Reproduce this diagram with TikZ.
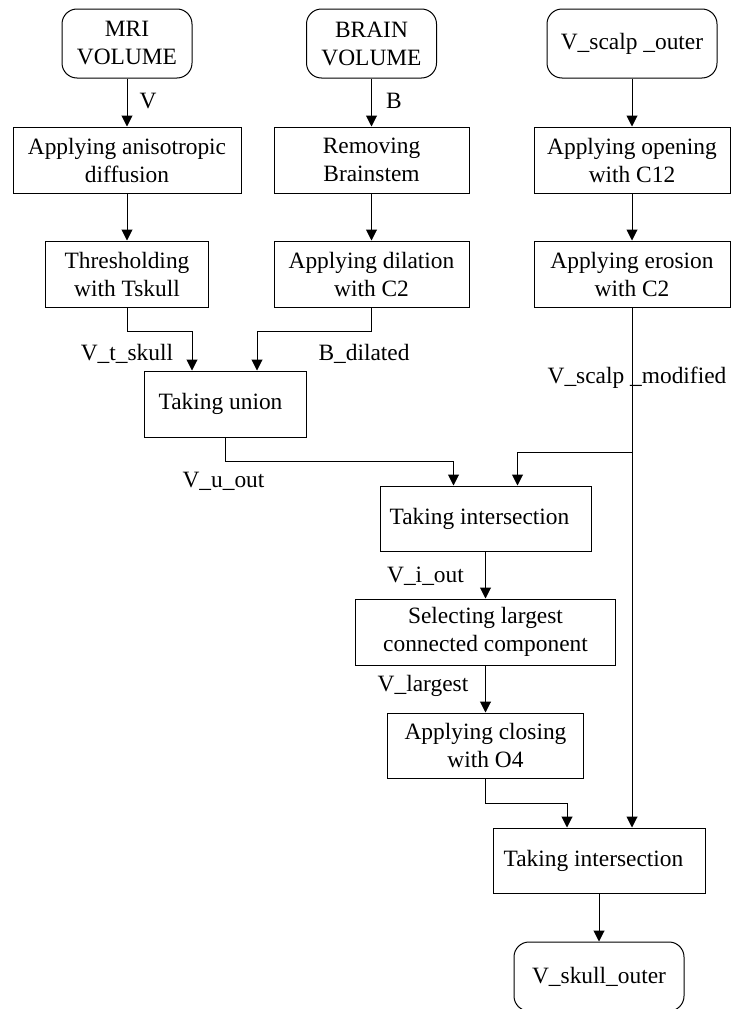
\documentclass[tikz,border=0pt]{standalone}
\usepackage{fontspec}
\setmainfont{Liberation Serif}
\usetikzlibrary{arrows.meta}
\begin{document}
\begin{tikzpicture}[x=1pt,y=-1pt,
  txt/.style={font=\fontsize{23.4}{28}\selectfont},
  box/.style={draw, line width=1pt, inner sep=0pt, align=center, txt},
  term/.style={box, rounded corners=15pt, minimum width=130pt, minimum height=69pt},
  lbl/.style={anchor=base, inner sep=0pt, txt},
  link/.style={line width=1pt},
  arr/.style={link, -{Triangle[length=11pt,width=11pt]}}]
\useasboundingbox (0,0) rectangle (731,1009);

% input volumes
\node[term] (mri) at (127,43.5) {MRI\\VOLUME};
\node[term] (brain) at (371.5,43.5) {BRAIN\\VOLUME};
\node[term, minimum width=170pt] (scalp) at (632,43.5) {V\_scalp \_outer};

% first processing row
\node[box, minimum width=228pt, minimum height=66pt] (aniso) at (127,160) {Applying anisotropic\\diffusion};
\node[box, minimum width=195pt, minimum height=66pt] (remove) at (371.5,160) {Removing\\Brainstem};
\node[box, minimum width=196pt, minimum height=66pt] (open) at (632,160) {Applying opening\\with C12};

% second processing row
\node[box, minimum width=163pt, minimum height=66pt] (thresh) at (127,274) {Thresholding\\with Tskull};
\node[box, minimum width=195pt, minimum height=66pt] (dilate) at (371.5,274) {Applying dilation\\with C2};
\node[box, minimum width=196pt, minimum height=66pt] (erode) at (632,274) {Applying erosion\\with C2};

% combination steps
\node[box, minimum width=162pt, minimum height=66pt] (union) at (225,404) {Taking union\hspace*{9pt}};
\node[box, minimum width=211pt, minimum height=65pt] (inter1) at (485.5,518.5) {Taking intersection\hspace*{12pt}};
\node[box, minimum width=260pt, minimum height=66pt] (select) at (485.5,632) {Selecting largest\\connected component};
\node[box, minimum width=196pt, minimum height=65pt] (close) at (485.5,745.5) {Applying closing\\with O4};
\node[box, minimum width=212pt, minimum height=65pt] (inter2) at (599,860.5) {Taking intersection\hspace*{11pt}};
\node[term, minimum width=170pt] (skull) at (599,976.5) {V\_skull\_outer};

% straight connectors
\draw[arr] (mri) -- (aniso);
\draw[arr] (brain) -- (remove);
\draw[arr] (scalp) -- (open);
\draw[arr] (aniso) -- (thresh);
\draw[arr] (remove) -- (dilate);
\draw[arr] (open) -- (erode);
\draw[arr] (inter1) -- (select);
\draw[arr] (select) -- (close);
\draw[arr] (inter2) -- (skull);

% elbow connectors
\draw[arr] (thresh.south) -- ++(0,24) -| ([xshift=-33pt]union.north);
\draw[arr] (dilate.south) -- ++(0,24) -| ([xshift=32pt]union.north);
\draw[arr] (union.south) -- ++(0,24) -| ([xshift=-32pt]inter1.north);
\draw[arr] (erode.south) -- ++(0,145) -| ([xshift=32pt]inter1.north);
\draw[arr] (erode.south) -- (erode.south |- inter2.north);
\draw[arr] (close.south) -- ++(0,25) -| ([xshift=-32pt]inter2.north);

% connector labels
\node[lbl] (lV) at (148,108) {V};
\node[lbl] (lB) at (394,108) {B};
\node[lbl] (lT) at (127,360) {V\_t\_skull};
\node[lbl] (lD) at (364,360) {B\_dilated};
\node[lbl] (lM) at (637,383) {V\_scalp \_modified};
\node[lbl] (lU) at (223.5,487) {V\_u\_out};
\node[lbl] (lI) at (425.5,582) {V\_i\_out};
\node[lbl] (lL) at (423,691) {V\_largest};
\end{tikzpicture}
\end{document}
